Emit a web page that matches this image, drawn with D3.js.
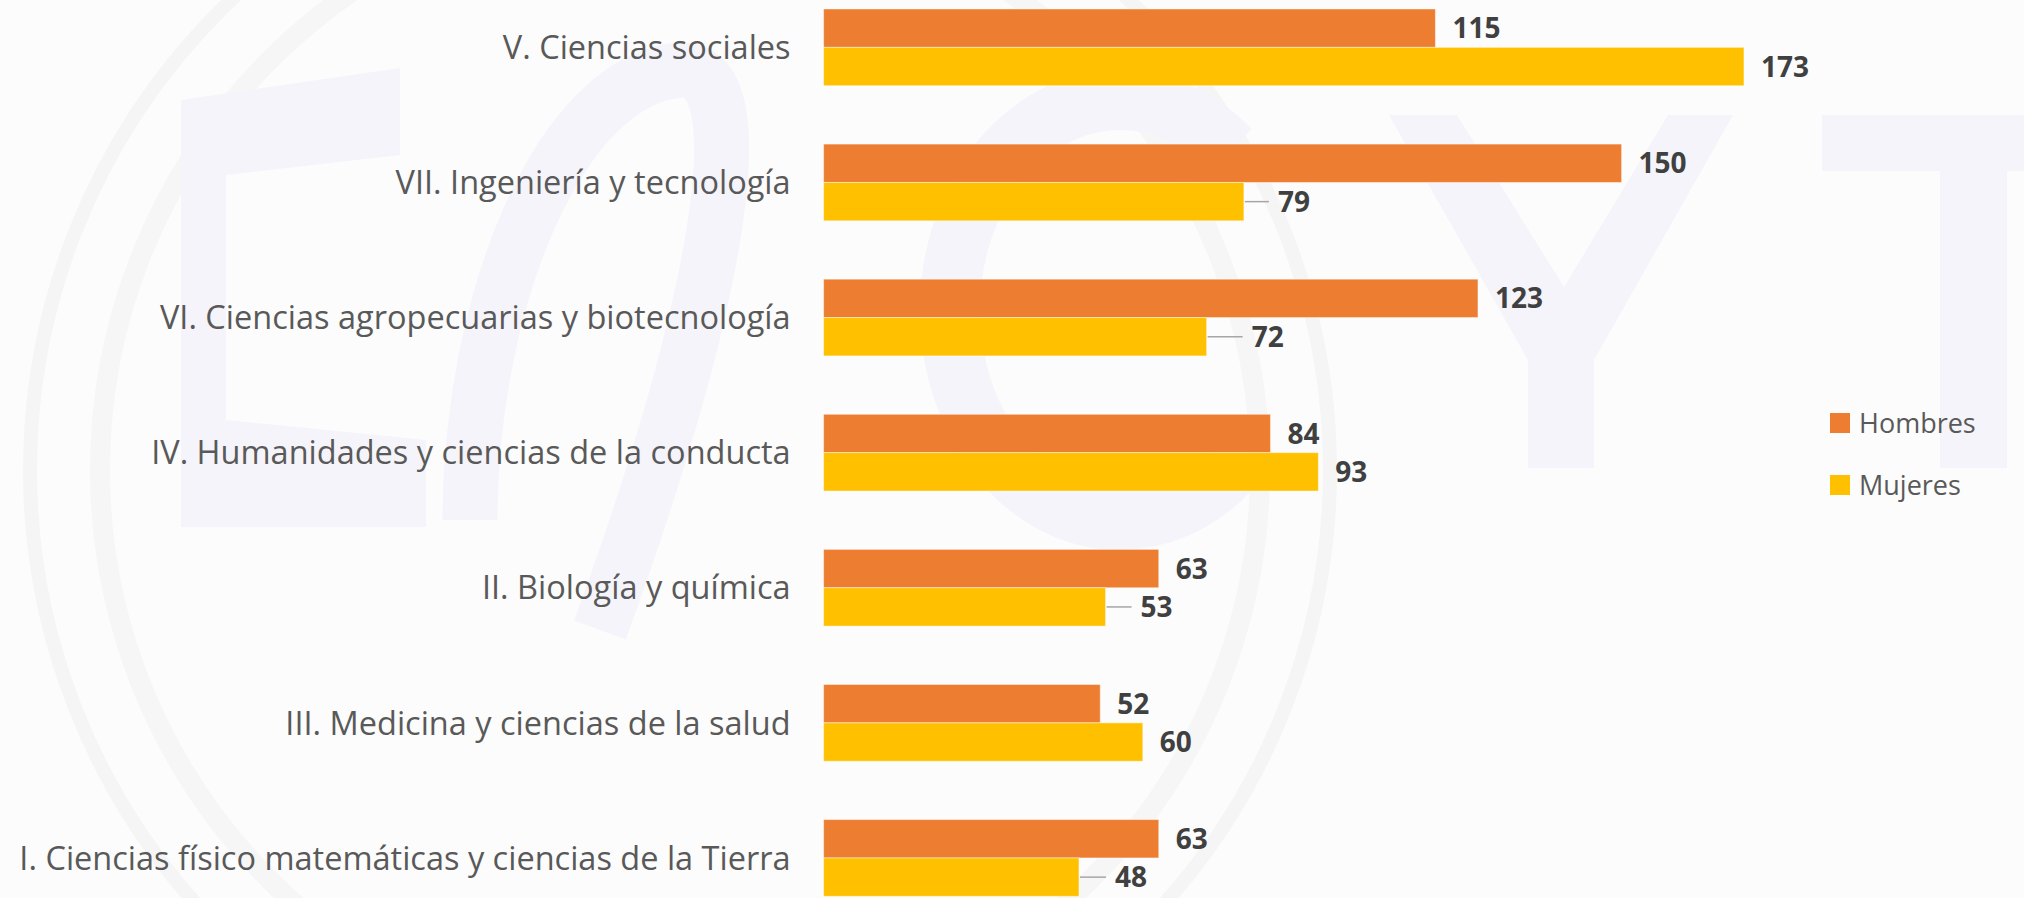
<!DOCTYPE html>
<html>
<head>
<meta charset="utf-8">
<script src="https://cdn.jsdelivr.net/npm/d3@7"></script>
<style>
	html, body { margin: 0; padding: 0; background: #fcfcfc; }
	svg { display: block; }
</style>
</head>
<body>
<div class="chart-zone"></div>
<script>
var categories = [
	'V. Ciencias sociales',
	'VII. Ingeniería y tecnología',
	'VI. Ciencias agropecuarias y biotecnología',
	'IV. Humanidades y ciencias de la conducta',
	'II. Biología y química',
	'III. Medicina y ciencias de la salud',
	'I. Ciencias físico matemáticas y ciencias de la Tierra'
];
var seriesNames = ['Hombres', 'Mujeres'];
var hombres = [115, 150, 123, 84, 63, 52, 63];
var mujeres = [173, 79, 72, 93, 53, 60, 48];

// labels that were dragged away from the bar end in the original (extra px)
var mujeresLabelShift = { 1: 17, 2: 28, 4: 18, 6: 19 };

var colors = { Hombres: '#ED7D31', Mujeres: '#FFC000' };

var svgSize = { width: 2024, height: 898 };

var svg = d3.select('.chart-zone').append('svg')
	.attr('width', svgSize.width)
	.attr('height', svgSize.height);

svg.append('rect')
	.attr('width', svgSize.width)
	.attr('height', svgSize.height)
	.attr('fill', '#fcfcfc');

// faint watermark behind the chart
var wm = svg.append('g').attr('class', 'watermark');
var lav = '#f5f4fa';

wm.append('circle').attr('cx', 680).attr('cy', 470).attr('r', 650)
	.attr('fill', 'none').attr('stroke', '#f5f5f5').attr('stroke-width', 14);
wm.append('circle').attr('cx', 680).attr('cy', 470).attr('r', 580)
	.attr('fill', 'none').attr('stroke', '#f6f6f6').attr('stroke-width', 20);

wm.append('path').attr('fill', lav)
	.attr('d', 'M181,100 L400,68 L400,155 L226,175 L226,420 L426,440 L426,527 L181,527 Z');
wm.append('path').attr('fill', 'none').attr('stroke', lav).attr('stroke-width', 55)
	.attr('d', 'M470,520 C470,300 560,80 680,70 C760,65 720,300 600,630');
wm.append('path').attr('fill', 'none').attr('stroke', lav).attr('stroke-width', 60)
	.attr('d', 'M1230,150 A170,210 0 1 0 1230,470');
wm.append('path').attr('fill', lav)
	.attr('d', 'M1389,115 L1457,115 L1564,287 L1668,115 L1733,115 L1594,360 L1594,468 L1528,468 L1528,360 Z');
wm.append('path').attr('fill', lav)
	.attr('d', 'M1822,115 L2024,115 L2024,171 L2007,171 L2007,468 L1940,468 L1940,171 L1822,171 Z');

var x = d3.scaleLinear()
	.domain([0, 180])
	.range([823.6, 823.6 + 5.32 * 180]);

var y = d3.scaleBand()
	.domain(categories)
	.range([-20.2, 925.5])
	.paddingInner(0.432)
	.paddingOuter(0.216);

var ySub = d3.scaleBand()
	.domain(seriesNames)
	.range([0, y.bandwidth()]);

var rows = categories.map(function(c, i){
	return { cat: c, i: i, values: [
		{ name: 'Hombres', value: hombres[i] },
		{ name: 'Mujeres', value: mujeres[i] }
	]};
});

var group = svg.selectAll('.bar-group')
	.data(rows)
	.enter()
	.append('g')
	.attr('class', 'bar-group')
	.attr('transform', function(d){ return 'translate(0,' + y(d.cat) + ')'; });

group.selectAll('rect')
	.data(function(d){ return d.values; })
	.enter()
	.append('rect')
	.attr('x', x(0))
	.attr('y', function(d){ return ySub(d.name); })
	.attr('width', function(d){ return x(d.value) - x(0); })
	.attr('height', ySub.bandwidth())
	.attr('fill', function(d){ return colors[d.name]; })
	.attr('stroke', 'rgba(255,255,255,0.45)')
	.attr('stroke-width', 1);

// leader lines for moved labels
group.each(function(row){
	var shift = mujeresLabelShift[row.i];
	if (!shift) return;
	var cy = ySub('Mujeres') + ySub.bandwidth() / 2;
	d3.select(this).append('line')
		.attr('x1', x(row.values[1].value) + 1)
		.attr('x2', x(row.values[1].value) + 17 + shift - 9)
		.attr('y1', cy)
		.attr('y2', cy)
		.attr('stroke', '#a6a6a6')
		.attr('stroke-width', 1.5);
});

group.selectAll('text.value')
	.data(function(d){ return d.values.map(function(v){ return { name: v.name, value: v.value, i: d.i }; }); })
	.enter()
	.append('text')
	.attr('class', 'value')
	.attr('x', function(d){
		var extra = d.name === 'Mujeres' ? (mujeresLabelShift[d.i] || 0) : 0;
		return x(d.value) + 17 + extra;
	})
	.attr('y', function(d){ return ySub(d.name) + ySub.bandwidth() / 2; })
	.attr('dy', '0.36em')
	.attr('fill', '#404040')
	.attr('font-family', '"Open Sans", sans-serif')
	.attr('font-weight', 'bold')
	.attr('font-size', '28px')
	.text(function(d){ return d.value; });

// category axis, no line or ticks
var yAxis = svg.append('g')
	.attr('transform', 'translate(' + (x(0) - 33) + ',0)')
	.call(d3.axisLeft(y).tickSize(0).tickPadding(0));
yAxis.select('.domain').remove();
yAxis.selectAll('text')
	.attr('fill', '#595959')
	.attr('font-family', '"Open Sans", sans-serif')
	.attr('font-size', '32.5px')
	.attr('dy', '0.36em');

// legend
var legend = svg.append('g').attr('class', 'legend');
var legendItem = legend.selectAll('g')
	.data(seriesNames)
	.enter()
	.append('g')
	.attr('transform', function(d, i){ return 'translate(1830,' + (413 + i * 62) + ')'; });

legendItem.append('rect')
	.attr('width', 20)
	.attr('height', 20)
	.attr('fill', function(d){ return colors[d]; });

legendItem.append('text')
	.attr('x', 29)
	.attr('y', 10)
	.attr('dy', '0.36em')
	.attr('fill', '#595959')
	.attr('font-family', '"Open Sans", sans-serif')
	.attr('font-size', '27px')
	.text(function(d){ return d; });
</script>
</body>
</html>
